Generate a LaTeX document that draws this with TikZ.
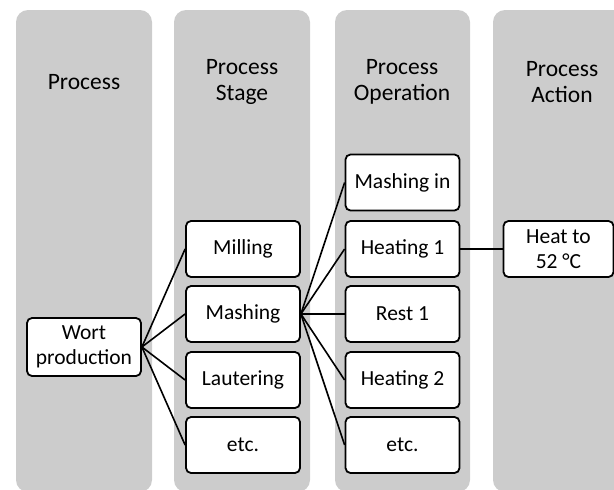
\documentclass[tikz,border=0pt]{standalone}
\usepackage{fontspec}
\setmainfont{Carlito}
\definecolor{lanegray}{RGB}{204,204,204}
\begin{document}
\begin{tikzpicture}[x=1pt, y=-1pt,
  lane/.style={fill=lanegray, rounded corners=12pt},
  head/.style={align=center, font=\fontsize{23.5}{26}\selectfont},
  item/.style={draw, line width=1.8pt, rounded corners=5pt, fill=white, minimum width=114pt, minimum height=56pt, inner sep=0pt, align=center, font=\fontsize{21.5}{25}\selectfont},
  link/.style={line width=1.6pt}]
\useasboundingbox (0, 0) rectangle (614, 490);
\clip (0, 0) rectangle (614, 490);
% lanes
\fill [lane] (16, 10) rectangle (152, 492);
\fill [lane] (174, 10) rectangle (310, 492);
\fill [lane] (335, 10) rectangle (470, 492);
\fill [lane] (493, 10) rectangle (630, 492);
\node [head] (hprocess) at (84, 82) {Process};
\node [head] (hstage) at (242, 82) {Process\\Stage};
\node [head] (hoperation) at (402, 82) {Process\\Operation};
\node [head] (haction) at (562, 82) {Process\\Action};
% process
\node [item, minimum height=58pt] (wort) at (84, 347) {Wort\\production};
% stages
\node [item] (milling) at (243, 249) {Milling};
\node [item] (mashing) at (243, 314) {Mashing};
\node [item] (lautering) at (243, 380) {Lautering};
\node [item] (stageetc) at (243, 445) {etc.};
% operations
\node [item] (mashingin) at (402.5, 182.5) {Mashing in};
\node [item] (heating1) at (402.5, 249) {Heating 1};
\node [item] (rest1) at (402.5, 314) {Rest 1};
\node [item] (heating2) at (402.5, 380) {Heating 2};
\node [item] (opetc) at (402.5, 445) {etc.};
% action
\node [item, minimum width=110pt] (heatto) at (558.5, 249) {Heat to\\52 °C};
\foreach \s in {milling, mashing, lautering, stageetc}
  \draw [link] (wort.east) -- (\s.west);
\foreach \o in {mashingin, heating1, rest1, heating2, opetc}
  \draw [link] (mashing.east) -- (\o.west);
\draw [link] (heating1.east) -- (heatto.west);
\end{tikzpicture}
\end{document}
